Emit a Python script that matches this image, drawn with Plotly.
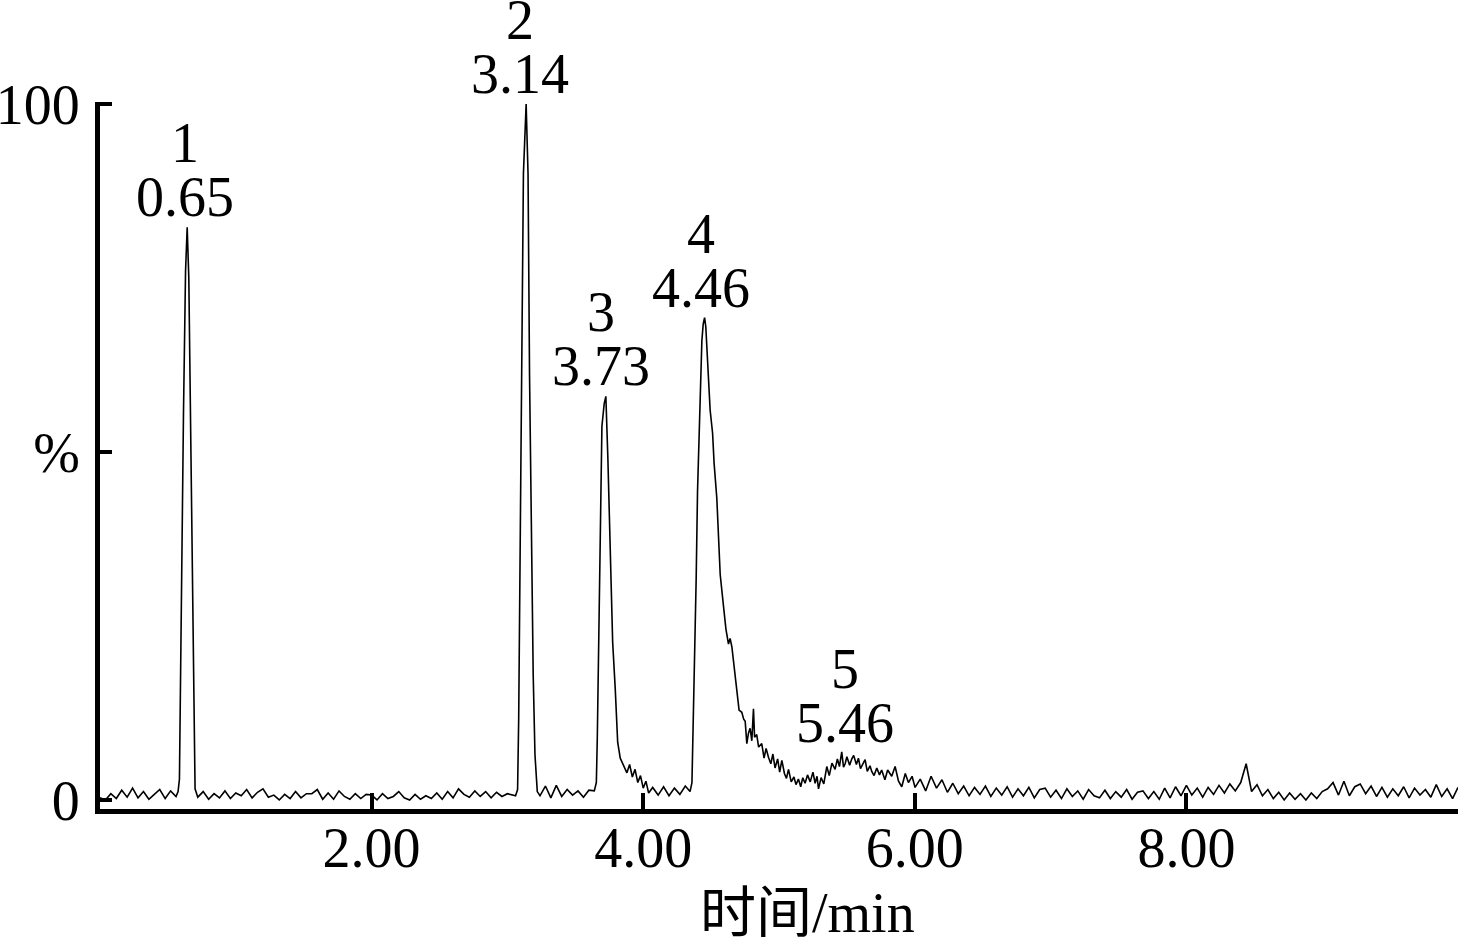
import plotly.graph_objects as go

# ---------------- data (retention time in min, relative intensity in %) ----------------
DT = 0.04  # sampling step used for the flat baseline stretches

base1_start = 0.00
base1_vals = [0.3, 0.0, 0.9, 0.2, 1.4, 0.4, 1.7, 0.3, 1.2, 0.1, 0.8, 1.5, 0.2, 1.3, 0.5]

peak1_t = [0.575, 0.585, 0.595, 0.615, 0.630, 0.642, 0.654, 0.665, 0.678, 0.690, 0.700]
peak1_v = [1.2, 3.0, 22.0, 56.0, 76.0, 82.3, 75.0, 58.0, 38.0, 15.0, 1.6]

base2_start = 0.72
base2_vals = [0.4, 1.2, 0.1, 0.9, 0.3, 1.3, 0.2, 1.0, 0.6, 1.5, 0.3, 1.1, 1.6, 0.4, 0.7,
              0.0, 0.8, 0.2, 1.2, 0.3, 0.9, 0.9, 1.5, 0.1, 1.0, 0.1, 1.3, 0.5, 0.1, 0.9,
              0.2, 0.8, 0.7, 0.0, 0.9, 0.2, 0.5, 1.2, 0.3, 0.0, 0.8, 0.1, 0.6, 0.2, 1.0,
              0.1, 1.2, 0.3, 1.6, 0.8, 0.4, 1.3, 0.5, 1.2, 0.3, 1.1, 0.5, 0.9]

peak2_t = [3.060, 3.075, 3.083, 3.098, 3.118, 3.138, 3.152, 3.163, 3.178, 3.190, 3.203, 3.220]
peak2_v = [0.6, 1.5, 11.5, 48.0, 90.0, 100.0, 90.0, 61.0, 33.0, 18.0, 6.5, 1.2]

base3_start = 3.24
base3_vals = [0.6, 2.0, 0.3, 2.1, 0.5, 1.5, 0.7, 1.3, 0.4, 1.4]

peak3_t = [3.640, 3.655, 3.662, 3.672, 3.684, 3.696, 3.713, 3.725, 3.740, 3.757, 3.775,
           3.794, 3.812, 3.831, 3.856, 3.880, 3.900, 3.920, 3.940, 3.960, 3.980, 4.000,
           4.020, 4.040]
peak3_v = [1.3, 2.5, 8.9, 22.0, 42.0, 53.7, 57.0, 58.0, 49.0, 34.0, 22.7,
           16.0, 8.3, 6.0, 5.0, 3.9, 5.1, 3.3, 4.4, 2.5, 3.5, 1.7,
           2.7, 1.0]

base4_start = 4.07
base4_vals = [1.8, 0.7, 1.9, 0.6, 1.7, 0.8, 2.0]

peak4_t = [4.345, 4.359, 4.371, 4.383, 4.390, 4.400, 4.412, 4.422, 4.432, 4.442, 4.452,
           4.461, 4.474, 4.493, 4.511, 4.522, 4.542, 4.567, 4.592, 4.609, 4.628, 4.640,
           4.653, 4.673, 4.690, 4.706, 4.726, 4.740, 4.751, 4.763, 4.775, 4.787, 4.800,
           4.812, 4.820, 4.836, 4.850, 4.873, 4.890, 4.905, 4.923, 4.940, 4.955, 4.971,
           4.990, 5.005, 5.021, 5.040, 5.055, 5.070, 5.090, 5.110, 5.125, 5.143, 5.160,
           5.175, 5.192, 5.210, 5.230, 5.250, 5.266, 5.280, 5.291, 5.310, 5.330, 5.352,
           5.370, 5.390, 5.413, 5.430, 5.445, 5.462, 5.475, 5.487, 5.500, 5.520, 5.536,
           5.550, 5.570, 5.585, 5.600, 5.620, 5.634, 5.650, 5.670, 5.683, 5.700, 5.720,
           5.740, 5.756, 5.780, 5.800, 5.830, 5.855, 5.880, 5.904, 5.930, 5.953, 5.980,
           6.002]
peak4_v = [1.2, 2.5, 12.9, 24.6, 31.7, 44.3, 52.0, 59.0, 66.0, 68.4, 69.3,
           68.0, 63.0, 56.0, 52.7, 48.4, 43.4, 32.4, 27.7, 24.6, 22.4, 23.2,
           22.0, 18.4, 16.0, 12.9, 12.6, 11.6, 11.3, 8.1, 9.6, 10.3, 8.5,
           13.1, 9.0, 9.4, 7.6, 8.1, 6.0, 7.4, 6.1, 5.2, 6.6, 4.6,
           5.9, 4.0, 5.7, 3.8, 3.1, 4.4, 2.6, 3.3, 2.2, 3.0, 1.9,
           3.2, 2.4, 3.6, 2.6, 4.0, 2.4, 3.4, 1.6, 3.2, 2.3, 4.8,
           3.5, 5.3, 4.4, 5.9, 4.8, 6.9, 4.7, 5.2, 6.2, 5.0, 5.9,
           6.4, 5.1, 6.0, 4.5, 5.3, 5.8, 4.1, 4.9, 4.1, 3.5, 4.6,
           3.6, 4.3, 2.9, 4.3, 3.4, 4.8, 2.7, 1.9, 3.8, 2.5, 3.4,
           1.8]

base5_start = 6.04
base5_vals = [3.0, 1.3, 3.4, 1.7, 2.9, 1.1, 2.4,
              0.9, 2.0, 0.6, 1.8, 0.8, 2.0, 0.5, 1.7, 0.7, 1.9, 0.4, 1.6, 0.6, 1.8,
              0.3, 1.5, 1.7, 0.4, 1.4, 0.2, 1.6, 0.5, 1.3, 0.1, 1.5, 0.6, 0.3, 1.4,
              0.2, 1.2, 0.4, 1.5, 0.1, 1.1, 1.3, 0.2, 1.2, 0.1, 1.7, 0.3, 1.9, 0.6, 2.1,
              0.7, 1.7, 0.4, 1.8, 0.8, 2.1, 1.0, 2.3, 1.3, 2.5,
              5.2,
              1.2, 2.2, 0.6, 1.5, 0.2, 1.1, 0.0, 1.0, 0.1, 0.9, 0.0, 1.0, 0.2, 1.2, 1.6,
              2.5, 0.7, 2.7, 0.6,
              1.9, 2.3, 0.9, 2.0, 0.5, 1.8, 0.4, 1.6, 0.6, 1.9, 0.3, 1.7, 0.7, 1.5,
              0.4, 2.2, 0.5, 1.6, 0.2, 1.8]

# peak labels
peak_ids = ["1", "2", "3", "4", "5"]
peak_rts = ["0.65", "3.14", "3.73", "4.46", "5.46"]
peak_heights = [82.3, 100.0, 58.0, 69.3, 6.7]

x_tickvals = [2, 4, 6, 8]
x_ticktext = ["2.00", "4.00", "6.00", "8.00"]
y_tickvals = [0, 50, 100]
y_ticktext = ["0", "%", "100"]
x_title = "时间/min"

# ---------------- assemble trace ----------------
def stretch(start, vals):
    return [round(start + i * DT, 4) for i in range(len(vals))], list(vals)

t_all, v_all = [], []
for part in [stretch(base1_start, base1_vals), (peak1_t, peak1_v),
             stretch(base2_start, base2_vals), (peak2_t, peak2_v),
             stretch(base3_start, base3_vals), (peak3_t, peak3_v),
             stretch(base4_start, base4_vals), (peak4_t, peak4_v),
             stretch(base5_start, base5_vals)]:
    t_all += part[0]
    v_all += part[1]

FONT = "Liberation Serif, Times New Roman, Noto Sans CJK SC, serif"
FS = 56

fig = go.Figure()
fig.add_trace(go.Scatter(x=t_all, y=v_all, mode="lines",
                         line=dict(color="black", width=1.6), showlegend=False,
                         hoverinfo="x+y"))

annotations = []
xshifts = [-3, -6, -6, -5, 4]
for pid, rt, h, xs in zip(peak_ids, peak_rts, peak_heights, xshifts):
    annotations.append(dict(x=float(rt), y=h, xref="x", yref="y", text=rt,
                            showarrow=False, xanchor="center", yanchor="middle",
                            yshift=30, xshift=xs,
                            font=dict(family=FONT, size=FS, color="black")))
    annotations.append(dict(x=float(rt), y=h, xref="x", yref="y", text=pid,
                            showarrow=False, xanchor="center", yanchor="middle",
                            yshift=84, xshift=xs,
                            font=dict(family=FONT, size=FS, color="black")))

annotations.append(dict(x=0.521, y=-0.147, xref="paper", yref="paper", text=x_title,
                        showarrow=False, xanchor="center", yanchor="middle",
                        font=dict(family=FONT, size=FS, color="black")))

fig.update_layout(
    width=1460, height=939,
    margin=dict(l=100, r=2, t=102, b=130, pad=0, autoexpand=False),
    paper_bgcolor="white", plot_bgcolor="white",
    annotations=annotations,
    xaxis=dict(range=[0, 10], tickvals=x_tickvals, ticktext=x_ticktext,
               ticks="inside", ticklen=16, tickwidth=4, tickcolor="black",
               showline=True, linewidth=5, linecolor="black",
               showgrid=False, zeroline=False, automargin=False,
               ticklabelstandoff=-14,
               tickfont=dict(family=FONT, size=FS, color="black")),
    yaxis=dict(range=[-1.3, 100.3], tickvals=y_tickvals, ticktext=y_ticktext,
               ticks="inside", ticklen=12, tickwidth=4, tickcolor="black",
               showline=True, linewidth=5, linecolor="black",
               showgrid=False, zeroline=False, ticklabelstandoff=4, automargin=False,
               tickfont=dict(family=FONT, size=FS, color="black")),
)

fig.write_html("out.html",
               config={"displayModeBar": False},
               post_script="document.body.style.margin='0';document.body.style.overflow='hidden';")
